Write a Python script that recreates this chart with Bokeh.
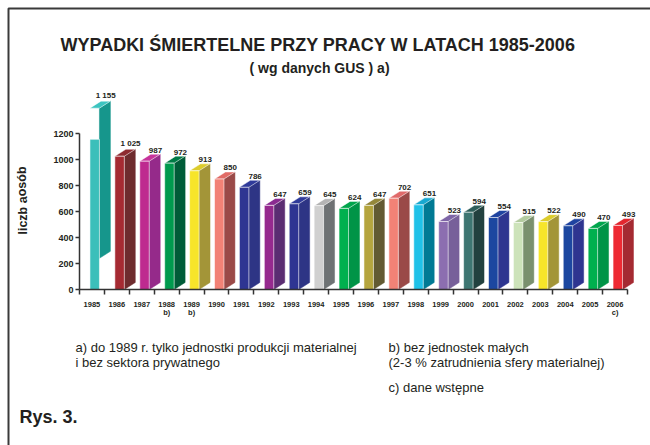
from bokeh.plotting import figure
from bokeh.models import (Range1d, LinearAxis, FixedTicker, Label, ColumnDataSource)
from bokeh.core.properties import value
from bokeh.embed import file_html
from bokeh.resources import INLINE

# ---------------- data ----------------
years = ["1985", "1986", "1987", "1988", "1989", "1990", "1991", "1992", "1993", "1994", "1995",
         "1996", "1997", "1998", "1999", "2000", "2001", "2002", "2003", "2004", "2005", "2006"]
deaths = [1155, 1025, 987, 972, 913, 850, 786, 647, 659, 645, 624,
          647, 702, 651, 523, 594, 554, 515, 522, 490, 470, 493]
notes = ["", "", "", "b)", "b)", "", "", "", "", "", "",
         "", "", "", "", "", "", "", "", "", "", "c)"]
y_ticks = [0, 200, 400, 600, 800, 1000, 1200]

front_colors = ["#3BBFBA", "#A52A32", "#BE2A8F", "#009A4E", "#F7E52A", "#F28276", "#2E3592",
                "#962A8E", "#2E3592", "#D0D0D0", "#00B04E", "#B5A53E", "#F28276", "#1FC1E8",
                "#8C6EB0", "#3E7672", "#1C47A0", "#CDE3BA", "#F7E52A", "#1C47A0", "#00B04E",
                "#EE2A33"]
side_colors = ["#16968C", "#6E2B2E", "#952A8A", "#005C38", "#A39538", "#9A4A48", "#2E3585",
               "#5B2D72", "#2E3585", "#6E7274", "#009447", "#625A32", "#9A4A48", "#007A94",
               "#77609A", "#22413F", "#2E3590", "#7A906E", "#A39538", "#2E3590", "#009447",
               "#A52A32"]
top_colors = ["#3CC4C0", "#8E2A30", "#C7339B", "#007A45", "#DCCC2D", "#E16B66", "#2F3A9A",
              "#8A2A90", "#2F3A9A", "#B4B4B4", "#00A54C", "#94873A", "#E06A6A", "#17A8D0",
              "#7E65A6", "#2F5F5A", "#1F43A0", "#B3CB9F", "#DCCC2D", "#1F43A0", "#00A54C",
              "#E2262E"]
# the 1985 bar is printed with its side and top displaced upwards in the source
glitch = [240] + [0] * 21

# ---------------- geometry (style) ----------------
W, H = 650, 445
AX_L, AX_R, AX_0 = 79, 627, 289      # page px of the plot box: left, right, zero line
PX_X = (AX_R - AX_L) / 22            # px per category
PX_Y = 0.13                          # px per unit
FONT = "Liberation Sans"
INK = "#231F20"

def xd(px):
    return -0.5 + (px - AX_L) / PX_X

def yd(py):
    return (AX_0 - py) / PX_Y

p = figure(width=W, height=H, x_range=Range1d(xd(0), xd(W)), y_range=Range1d(yd(H), yd(0)),
           output_backend="svg", toolbar_location=None, title=None,
           x_axis_type=None, y_axis_type=None,
           min_border_left=0, min_border_right=0, min_border_top=0, min_border_bottom=0)
p.xgrid.visible = False
p.ygrid.visible = False
p.outline_line_color = None
p.background_fill_color = "white"
p.border_fill_color = "white"

# page frame (left and top rule)
p.line([xd(8), xd(8), xd(W + 5)], [yd(H + 5), yd(8), yd(8)], line_color="#3a3a3a", line_width=2)

# ---------------- 3D bars ----------------
fl_off, fr_off = -0.08, 0.30   # front face relative to category centre
ddx = 0.44                     # depth in x (categories)
ddy = 7 / PX_Y                 # depth in y (units)

front = dict(left=[], right=[], top=[], bottom=[], color=[])
side = dict(xs=[], ys=[], color=[])
top = dict(xs=[], ys=[], color=[])
lab = dict(x=[], y=[], text=[])
for i, v in enumerate(deaths):
    g = glitch[i]
    l, r = i + fl_off, i + fr_off
    front["left"].append(l); front["right"].append(r)
    front["bottom"].append(0); front["top"].append(v)
    front["color"].append(front_colors[i])
    side["xs"].append([r, r + ddx, r + ddx, r])
    side["ys"].append([g, g + ddy, v + g + ddy, v + g])
    side["color"].append(side_colors[i])
    top["xs"].append([l, r, r + ddx, l + ddx])
    top["ys"].append([v + g, v + g, v + g + ddy, v + g + ddy])
    top["color"].append(top_colors[i])
    lab["x"].append(i + 0.55)
    lab["y"].append(v + g + ddy + 12)
    lab["text"].append(f"{v:,}".replace(",", " "))

p.patches("xs", "ys", source=ColumnDataSource(side), fill_color="color",
          line_color="color", line_width=0.5)
p.patches("xs", "ys", source=ColumnDataSource(top), fill_color="color",
          line_color="white", line_alpha=0.6, line_width=0.8)
p.quad(left="left", right="right", top="top", bottom="bottom",
       source=ColumnDataSource(front), fill_color="color",
       line_color="white", line_alpha=0.55, line_width=1)
p.text("x", "y", text="text", source=ColumnDataSource(lab), text_font=value(FONT),
       text_font_style="bold", text_font_size="8px", text_color=INK,
       text_align="center", text_baseline="bottom")

# ---------------- axes (fixed inside the full-canvas frame) ----------------
xax = LinearAxis(ticker=FixedTicker(ticks=list(range(len(years))),
                                    minor_ticks=[i - 0.5 for i in range(len(years) + 1)]),
                 major_label_overrides={i: y for i, y in enumerate(years)},
                 fixed_location=0, bounds=(-0.5, len(years) - 0.5))
xax.major_tick_out = 0
xax.major_tick_in = 0
xax.minor_tick_out = 5
xax.minor_tick_in = 0
xax.minor_tick_line_color = "#333333"
xax.minor_tick_line_width = 1.5
xax.axis_line_color = "#333333"
xax.axis_line_width = 1.5
xax.major_label_standoff = 7
xax.major_label_text_font = FONT
xax.major_label_text_font_style = "bold"
xax.major_label_text_font_size = "7.5px"
xax.major_label_text_color = INK
p.add_layout(xax, "below")

yax = LinearAxis(ticker=FixedTicker(ticks=y_ticks, minor_ticks=[]),
                 fixed_location=-0.5, bounds=(0, 1200))
yax.major_tick_out = 4
yax.major_tick_in = 0
yax.major_tick_line_color = "#333333"
yax.major_tick_line_width = 1.5
yax.axis_line_color = "#333333"
yax.axis_line_width = 1.5
yax.major_label_standoff = 2
yax.major_label_text_font = FONT
yax.major_label_text_font_style = "bold"
yax.major_label_text_font_size = "9px"
yax.major_label_text_color = INK
p.add_layout(yax, "left")

# notes under years
for i, n in enumerate(notes):
    if n:
        p.add_layout(Label(x=i, y=yd(312), text=n, text_font=FONT, text_font_style="bold",
                           text_font_size="7.5px", text_color=INK,
                           text_align="center", text_baseline="middle"))

# ---------------- texts ----------------
def add_text(px, py, text, size, bold=False, align="left", angle=0.0):
    p.add_layout(Label(x=xd(px), y=yd(py), text=text, text_font=FONT,
                       text_font_style="bold" if bold else "normal",
                       text_font_size=size, text_color=INK, angle=angle,
                       text_align=align, text_baseline="middle"))

add_text(320, 44, "WYPADKI ŚMIERTELNE PRZY PRACY W  LATACH 1985-2006", "18px", True, "center")
add_text(321, 67, "( wg danych GUS )  a)", "14px", True, "center")
add_text(22, 200, "liczb aosób", "12.5px", True, "center", angle=1.5708)

add_text(75, 347, "a) do 1989 r. tylko jednostki produkcji materialnej", "13px")
add_text(75, 362, "i bez sektora prywatnego", "13px")
add_text(388, 347, "b) bez jednostek małych", "13px")
add_text(388, 362, "(2-3 % zatrudnienia sfery materialnej)", "13px")
add_text(388, 387, "c) dane wstępne", "13px")
add_text(19, 416, "Rys. 3.", "18px", True)

open("out.html", "w").write(file_html(p, INLINE))
